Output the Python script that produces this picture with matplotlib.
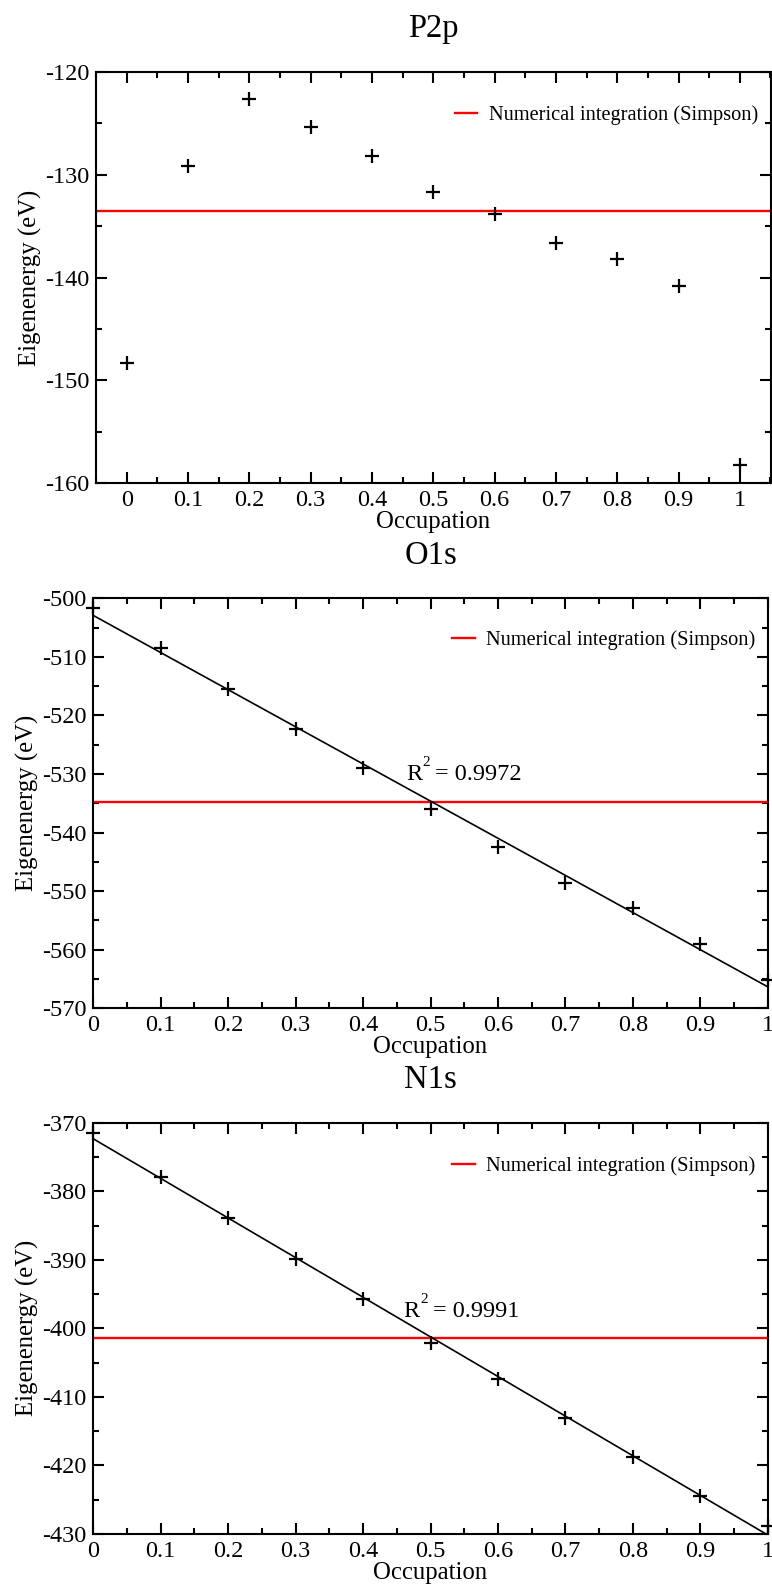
import numpy as np
import matplotlib
matplotlib.use("Agg")
import matplotlib.pyplot as plt
from matplotlib.ticker import MultipleLocator, FuncFormatter
from matplotlib.transforms import offset_copy

plt.rcParams['font.family'] = ['Liberation Serif', 'DejaVu Serif']
plt.rcParams['axes.unicode_minus'] = False

# Occupation of the core hole (fractional charge)
occupation = [0.0, 0.1, 0.2, 0.3, 0.4, 0.5, 0.6, 0.7, 0.8, 0.9, 1.0]

# Eigenenergies (eV) for each core level
p2p_energy = [-148.3, -129.1, -122.6, -125.4, -128.2, -131.7, -133.8, -136.6, -138.2, -140.8, -158.2]
o1s_energy = [-501.7, -508.5, -515.5, -522.3, -529.0, -535.9, -542.4, -548.6, -552.8, -559.0, -565.2]
n1s_energy = [-371.5, -377.9, -383.9, -389.9, -395.7, -402.2, -407.4, -413.1, -418.8, -424.5, -428.8]

# Simpson-rule integrated binding energies (eV)
simpson_p2p = -133.5
simpson_o1s = -534.8
simpson_n1s = -401.4

titles = ["P2p", "O1s", "N1s"]
r2_labels = [None, "0.9972", "0.9991"]
legend_text = "Numerical integration (Simpson)"

W, H = 772, 1587
fig = plt.figure(figsize=(W / 100, H / 100), dpi=100)


def px_axes(left, top, right, bottom):
    return fig.add_axes([left / W, 1 - bottom / H, (right - left) / W, (bottom - top) / H])


def fmt_x(v, pos):
    s = f"{v:.1f}"
    if s.endswith(".0"):
        s = s[:-2]
    return s


def style(ax, xlim, ylim):
    ax.set_xlim(*xlim)
    ax.set_ylim(*ylim)
    ax.xaxis.set_major_locator(MultipleLocator(0.1))
    ax.xaxis.set_minor_locator(MultipleLocator(0.05))
    ax.yaxis.set_major_locator(MultipleLocator(10))
    ax.yaxis.set_minor_locator(MultipleLocator(5))
    ax.xaxis.set_major_formatter(FuncFormatter(fmt_x))
    ax.yaxis.set_major_formatter(FuncFormatter(lambda v, p: f"{v:.0f}"))
    ax.tick_params(which='both', direction='in', top=True, right=True, width=1.5)
    ax.tick_params(which='major', length=8, labelsize=17.5, pad=5)
    ax.tick_params(which='minor', length=4.5)
    for sp in ax.spines.values():
        sp.set_linewidth(1.5)
    ax.set_xlabel("Occupation", fontsize=17.8, labelpad=0)
    ax.set_ylabel("Eigenenergy (eV)", fontsize=17.8, labelpad=2)


def r_squared_label(ax, tx, ty, value):
    # "R" with a raised, smaller "2", followed by the value
    ax.text(tx, ty, "R", fontsize=17.5, va='baseline', ha='left')
    sup = offset_copy(ax.transData, fig=fig, x=16.5, y=13.5, units='dots')
    ax.text(tx, ty, "2", fontsize=11, va='baseline', ha='left', transform=sup)
    rest = offset_copy(ax.transData, fig=fig, x=29, y=0, units='dots')
    ax.text(tx, ty, "= " + value, fontsize=17.5, va='baseline', ha='left', transform=rest)


boxes = [(96, 72, 770.5, 483), (93.3, 598.3, 767.7, 1008.3), (93.3, 1122.7, 767.7, 1534)]
limits = [((-0.05, 1.05), (-160, -120)), ((0, 1), (-570, -500)), ((0, 1), (-430, -370))]
energies = [p2p_energy, o1s_energy, n1s_energy]
simpson = [simpson_p2p, simpson_o1s, simpson_n1s]
title_pads = [25.0, 25.0, 25.0]
legend_y = [0.895, 0.897, 0.895]
r2_pos = [None, (0.464, -531.0), (0.46, -398.3)]

x = np.array(occupation)
for i, ax_box in enumerate(boxes):
    ax = px_axes(*ax_box)
    style(ax, *limits[i])
    y = np.array(energies[i])
    ax.axhline(simpson[i], color='red', lw=1.7, label=legend_text, zorder=2)
    if r2_labels[i] is not None:
        slope, intercept = np.polyfit(x, y, 1)
        xf = np.array([x.min(), x.max()])
        ax.plot(xf, intercept + slope * xf, color='black', lw=1.2, zorder=3)
        tx, ty = r2_pos[i]
        r_squared_label(ax, tx, ty, r2_labels[i])
    ax.plot(x, y, linestyle='none', marker='+', ms=10, mew=1.6, color='black',
            clip_on=False, zorder=4)
    ax.set_title(titles[i], fontsize=23.5, pad=title_pads[i])
    ax.legend(loc='center left', bbox_to_anchor=(0.532, legend_y[i]), frameon=False,
              fontsize=14.7, handlelength=1.1, handletextpad=0.55, borderpad=0,
              borderaxespad=0)

fig.savefig("out.png", dpi=100)
